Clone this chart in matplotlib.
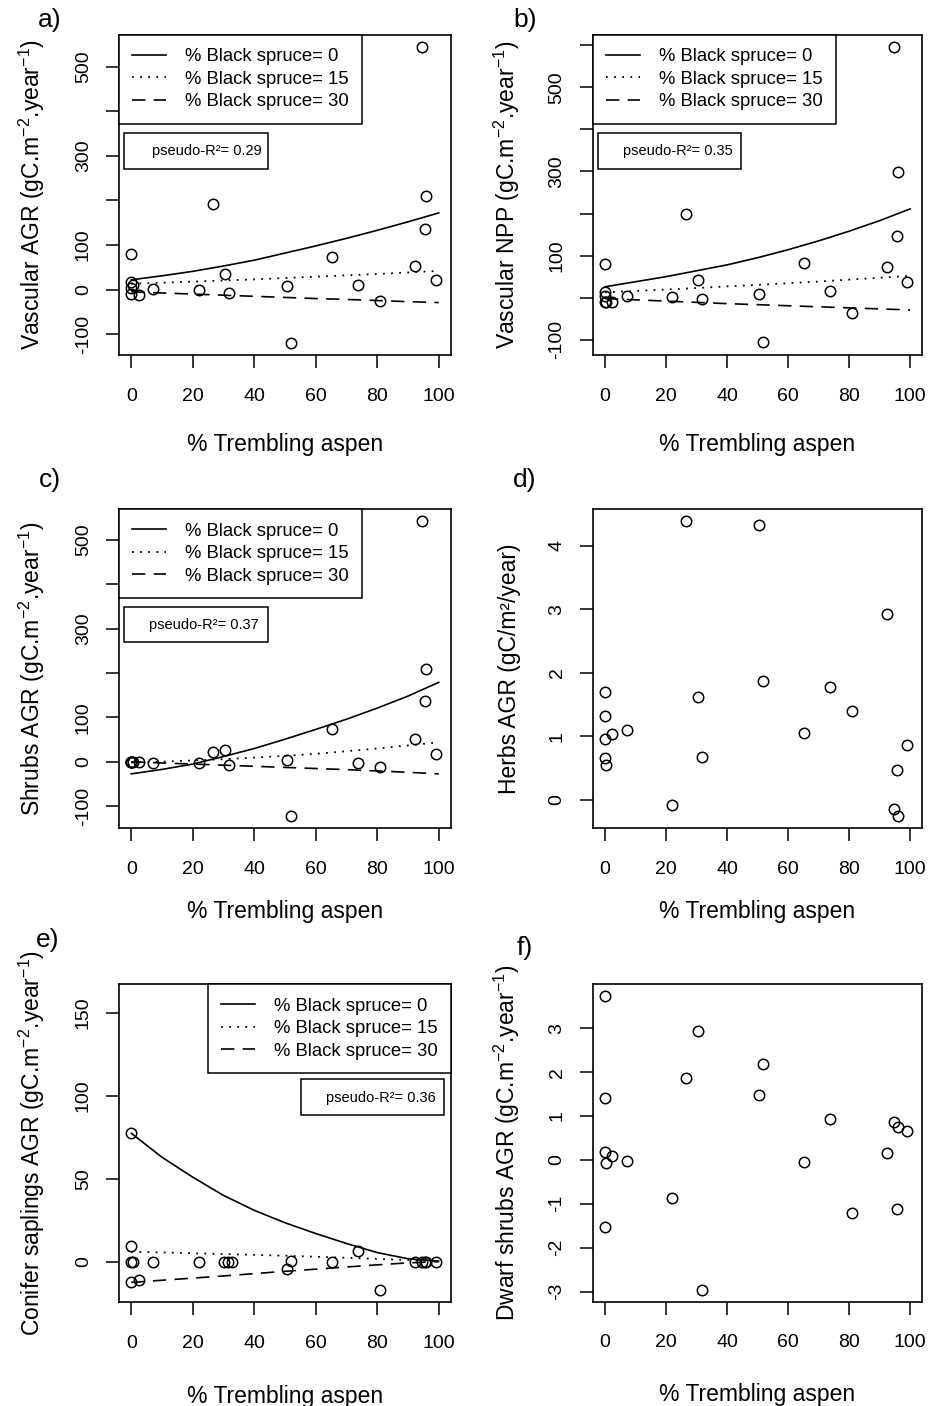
import matplotlib
matplotlib.use("Agg")
import matplotlib.pyplot as plt
from matplotlib.patches import Rectangle

plt.rcParams['font.family'] = ['Liberation Sans', 'DejaVu Sans']
plt.rcParams['mathtext.default'] = 'regular'

# ---------------- data ----------------
aspen = [0, 0, 0, 0, 0.4, 2.4, 7.1, 22.1, 26.5, 30.5, 31.8, 50.6, 51.9,
         65.2, 73.8, 81.0, 92.4, 94.6, 95.7, 96.0, 99.1]
aspen_e = [0, 0, 0, 0, 0.4, 2.4, 7.1, 22.1, 30.1, 31.4, 32.6, 50.6, 51.9,
           65.2, 73.8, 81.0, 92.4, 94.6, 95.7, 96.0, 99.1]

vascular_agr = [79, 17, 4.5, -9, 10, -13, 2, 0, 191, 34, -7, 8, -120,
                73, 10, -26, 53, 544, 136, 210, 21]
vascular_npp = [80, 13, 4, -10, -10, -10, 5, 2, 198, 42, -3, 10, -106,
                82, 16, -36, 74, 595, 147, 299, 38]
shrubs_agr = [0, 0, 0, 0, 0, 0, -1.5, -1.5, 22, 27, -6, 4.5, -123,
              73, -1.5, -12, 51, 542, 137, 209, 17]
herbs_agr = [1.69, 1.32, 0.95, 0.65, 0.54, 1.03, 1.09, -0.08, 4.38, 1.62, 0.67,
             4.32, 1.87, 1.05, 1.77, 1.40, 2.92, -0.15, 0.47, -0.26, 0.86]
conifer_agr = [77.5, 9.7, 0, -12.5, 0, -11, 0, 0, 0, 0, 0, -4.6, 0.3,
               0, 6.4, -17, 0, 0, 0, 0, 0]
dwarf_agr = [3.73, 1.40, 0.17, -1.52, -0.07, 0.10, -0.02, -0.87, 1.86, 2.94, -2.96,
             1.47, 2.18, -0.05, 0.93, -1.20, 0.15, 0.86, -1.12, 0.74, 0.66]

curve_x = [0, 10, 20, 30, 40, 50, 60, 70, 80, 90, 100]
a_bs0 = [22, 31, 41, 53, 66, 82, 98, 115, 133, 152, 172]
a_bs15 = [13, 15.5, 18, 20.5, 23, 26, 29, 32, 35, 38.5, 42]
a_bs30 = [-5, -7.5, -10, -12.5, -15, -17.5, -20, -22, -24.5, -27, -29]
b_bs0 = [26, 38, 50, 64, 78, 95, 114, 135, 158, 183, 211]
b_bs15 = [13, 16, 19.5, 23, 27, 30.5, 34.5, 38.5, 43, 47.5, 52]
b_bs30 = [-2, -5, -8, -11, -14, -16.5, -19, -21.5, -24, -26.5, -29]
c_bs0 = [-27, -17, -5, 12, 30, 51, 73, 96, 121, 148, 179]
c_bs15 = [-1.5, 0.5, 3, 6, 9.5, 13.5, 18, 24, 30, 37, 44]
c_bs30 = [0, -2.5, -5, -7.5, -10, -12.5, -15, -17.5, -20.5, -23.5, -27]
e_bs0 = [77.5, 63, 51, 40, 31, 23.5, 17, 11, 5.5, 1.8, 0.3]
e_bs15 = [6, 5.6, 5.1, 4.6, 4.1, 3.6, 3.0, 2.4, 1.7, 1.0, 0.4]
e_bs30 = [-12.5, -11.2, -9.9, -8.6, -7.2, -5.8, -4.5, -3.2, -1.9, -0.7, 0]

legend_labels = ['% Black spruce= 0', '% Black spruce= 15', '% Black spruce= 30']
xticks = [0, 20, 40, 60, 80, 100]
xlabel = '% Trembling aspen'

# ---------------- figure ----------------
W, H = 935, 1406
fig = plt.figure(figsize=(W / 100, H / 100), dpi=100)


def make_ax(left, top, right, bottom):
    return fig.add_axes([left / W, 1 - bottom / H, (right - left) / W, (bottom - top) / H])


def style(ax, ylim, yticks, yticklabels, ylabel, xlab_off, ylab_off):
    ax.set_xlim(-4, 104)
    ax.set_ylim(*ylim)
    ax.set_xticks(xticks)
    ax.set_xticklabels([str(t) for t in xticks])
    ax.set_yticks(yticks)
    ax.set_yticklabels(yticklabels, rotation=90, va='center')
    ax.tick_params(axis='both', direction='out', length=9.5, width=1.1,
                   labelsize=14, color='black')
    ax.tick_params(axis='x', pad=14)
    ax.tick_params(axis='y', pad=10)
    for s in ax.spines.values():
        s.set_linewidth(1.2)
        s.set_color('black')
    ax.set_xlabel(xlabel, fontsize=16.5)
    ax.set_ylabel(ylabel, fontsize=16.5)
    bb = ax.get_position()
    wpx = bb.width * W
    hpx = bb.height * H
    ax.xaxis.set_label_coords(0.5, -xlab_off / hpx)
    ax.xaxis.label.set_va('center')
    ax.yaxis.set_label_coords(-ylab_off / wpx, 0.5)
    ax.yaxis.label.set_va('center')


def points(ax, x, y):
    ax.plot(x, y, linestyle='none', marker='o', ms=7.5, mfc='none',
            mec='black', mew=1.1)


def curves(ax, y0, y15, y30, loc):
    l0, = ax.plot(curve_x, y0, color='black', lw=1.2, linestyle='-')
    l15, = ax.plot(curve_x, y15, color='black', lw=1.3, linestyle=(0, (1, 3.5)))
    l30, = ax.plot(curve_x, y30, color='black', lw=1.2, linestyle=(0, (8, 5)))
    if loc == 'left':
        kw = dict(loc='upper left', bbox_to_anchor=(0, 1))
    else:
        kw = dict(loc='upper right', bbox_to_anchor=(1, 1))
    leg = ax.legend([l0, l15, l30], legend_labels, fontsize=13.3, handlelength=1.85,
                    handletextpad=1.0, borderpad=0.72, labelspacing=0.3,
                    borderaxespad=0, fancybox=False, framealpha=1, **kw)
    leg.get_frame().set_edgecolor('black')
    leg.get_frame().set_linewidth(1.1)


def r2box(ax, x0, y0, w, h, tx, ty, txt):
    ax.add_patch(Rectangle((x0, y0), w, h, transform=ax.transAxes, fill=False,
                           edgecolor='black', lw=1.1, zorder=5))
    ax.text(tx, ty, txt, transform=ax.transAxes, ha='right', va='center',
            fontsize=10.5, zorder=6)


vas_ticks = [-100, 0, 100, 200, 300, 400, 500]
vas_labels = ['-100', '0', '100', '', '300', '', '500']

# a)
ax = make_ax(119, 35, 451, 355)
points(ax, aspen, vascular_agr)
curves(ax, a_bs0, a_bs15, a_bs30, 'left')
style(ax, (-146.6, 571), vas_ticks, vas_labels,
      r'Vascular AGR (gC.m$^{-2}$.year$^{-1}$)', 90, 87)
r2box(ax, 0.015, 0.581, 0.434, 0.1125, 0.431, 0.6375, 'pseudo-R²= 0.29')

# b)
ax = make_ax(592.7, 35, 922.3, 355)
points(ax, aspen, vascular_npp)
curves(ax, b_bs0, b_bs15, b_bs30, 'left')
style(ax, (-136, 624), [-100, 0, 100, 200, 300, 400, 500, 600],
      ['-100', '', '100', '', '300', '', '500', ''],
      r'Vascular NPP (gC.m$^{-2}$.year$^{-1}$)', 90, 86)
r2box(ax, 0.016, 0.581, 0.434, 0.1125, 0.426, 0.6375, 'pseudo-R²= 0.35')

# c)
ax = make_ax(119, 509.3, 451, 828.3)
points(ax, aspen, shrubs_agr)
curves(ax, c_bs0, c_bs15, c_bs30, 'left')
style(ax, (-149.6, 568.6), vas_ticks, vas_labels,
      r'Shrubs AGR (gC.m$^{-2}$.year$^{-1}$)', 83, 87)
r2box(ax, 0.015, 0.584, 0.434, 0.11, 0.422, 0.638, 'pseudo-R²= 0.37')

# d)
ax = make_ax(592.7, 509.3, 922.3, 828.3)
points(ax, aspen, herbs_agr)
style(ax, (-0.45, 4.57), [0, 1, 2, 3, 4], ['0', '1', '2', '3', '4'],
      'Herbs AGR (gC/m²/year)', 83, 83)

# e)
ax = make_ax(119, 984.3, 451, 1302.3)
points(ax, aspen_e, conifer_agr)
curves(ax, e_bs0, e_bs15, e_bs30, 'right')
style(ax, (-24.5, 167.4), [0, 50, 100, 150], ['0', '50', '100', '150'],
      r'Conifer saplings AGR (gC.m$^{-2}$.year$^{-1}$)', 94, 87)
r2box(ax, 0.548, 0.589, 0.431, 0.113, 0.955, 0.6415, 'pseudo-R²= 0.36')

# f)
ax = make_ax(592.7, 984.3, 922.3, 1301.7)
points(ax, aspen, dwarf_agr)
style(ax, (-3.23, 4.0), [-3, -2, -1, 0, 1, 2, 3],
      ['-3', '-2', '-1', '0', '1', '2', '3'],
      r'Dwarf shrubs AGR (gC.m$^{-2}$.year$^{-1}$)', 93, 86)

# panel letters
for lab, (px, py) in zip(['a)', 'b)', 'c)', 'd)', 'e)', 'f)'],
                         [(50, 20), (525, 20), (50, 480), (525, 480), (48, 940), (525, 948)]):
    fig.text(px / W, 1 - py / H, lab, ha='center', va='center', fontsize=19)

fig.savefig('out.png', dpi=100, facecolor='white')
